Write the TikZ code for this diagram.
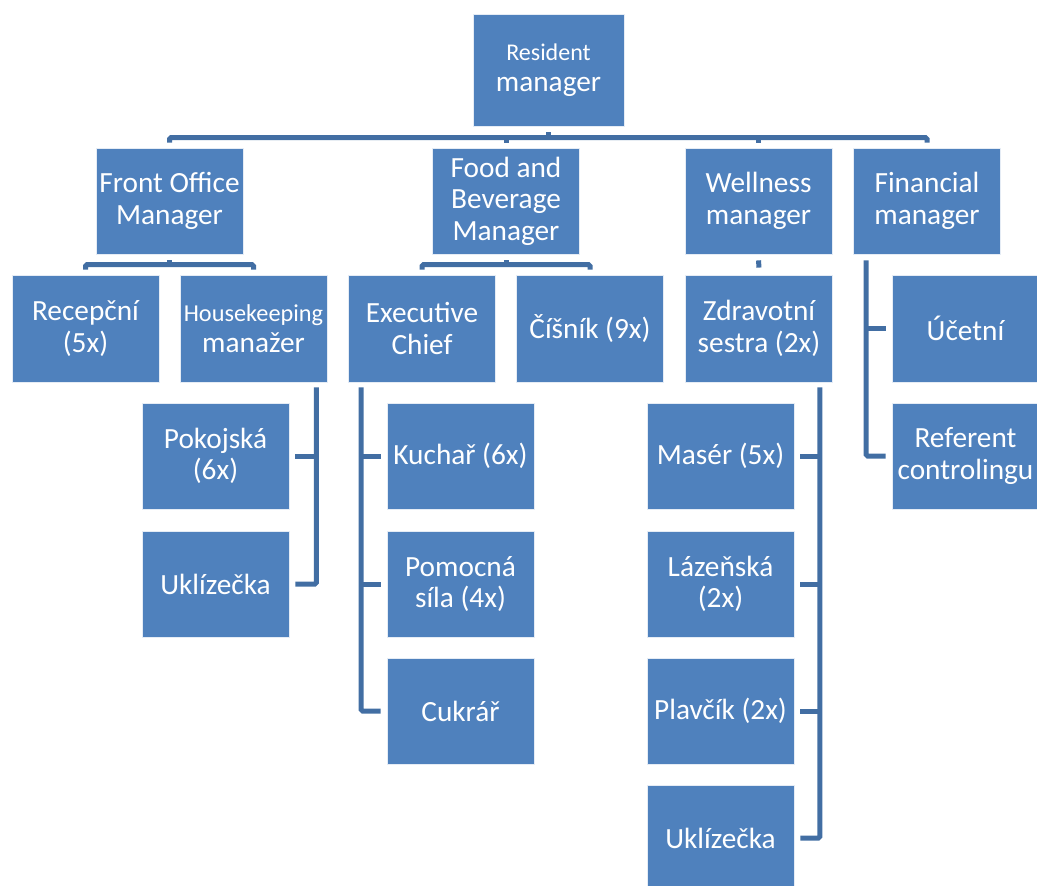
\documentclass[tikz,border=0pt]{standalone}
\usepackage{fontspec}
\setmainfont{Carlito}
\usetikzlibrary{calc}
\definecolor{boxfill}{RGB}{79,129,189}
\definecolor{linecol}{RGB}{66,110,163}
\begin{document}
\begin{tikzpicture}[x=1pt,y=1pt,
  box/.style={fill=boxfill,draw=white!85!boxfill,line width=0.8pt,text=white,
    minimum width=147pt,minimum height=106pt,inner sep=0pt,align=center,
    font=\fontsize{29.3}{31.5}\selectfont},
  conn/.style={draw=linecol,line width=5pt,rounded corners=1.5pt}]
\useasboundingbox (0,0) rectangle (1037,-886);
\clip (0,0) rectangle (1037,-886);
% level 0
\node[box,minimum width=151pt,minimum height=112pt] (res) at (548.5,-70) {{\fontsize{24}{31}\selectfont Resident}\\manager};
% level 1
\node[box] (fom) at (169.5,-201) {Front Office\\Manager};
\node[box] (fb) at (506,-201) {Food and\\Beverage\\Manager};
\node[box] (well) at (758.5,-201) {Wellness\\manager};
\node[box] (fin) at (927,-201) {Financial\\manager};
% level 2
\node[box,minimum height=107pt] (rec) at (85.5,-328.5) {Recepční\\(5x)};
\node[box,minimum height=107pt] (hk) at (253.5,-328.5) {{\fontsize{24.3}{31}\selectfont Housekeeping}\\manažer};
\node[box,minimum height=107pt] (ex) at (422,-328.5) {Executive\\Chief};
\node[box,minimum height=107pt] (cis) at (590,-328.5) {Číšník (9x)};
\node[box,minimum height=107pt] (zdr) at (759,-328.5) {Zdravotní\\sestra (2x)};
\node[box,minimum height=107pt] (uce) at (965.5,-328.5) {Účetní};
% level 3
\node[box] (pok) at (215.5,-456) {Pokojská\\(6x)};
\node[box] (ukla) at (215.5,-584) {Uklízečka};
\node[box] (kuch) at (460.5,-456) {Kuchař (6x)};
\node[box] (pom) at (460.5,-584) {Pomocná\\síla (4x)};
\node[box] (cuk) at (460.5,-711) {Cukrář};
\node[box] (mas) at (720.5,-456) {Masér (5x)};
\node[box] (laz) at (720.5,-584) {Lázeňská\\(2x)};
\node[box] (plav) at (720.5,-711) {Plavčík (2x)};
\node[box] (uklb) at (720.5,-838) {Uklízečka};
\node[box] (ref) at (965.5,-456) {Referent\\controlingu};
% top bus
\coordinate (busL) at ($(fom.north)+(0,10)$);
\coordinate (busR) at ($(fin.north)+(0,10)$);
\draw[conn] ($(fom.north)+(0,5)$) -- (busL) -- (busR) -- ($(fin.north)+(0,5)$);
\draw[conn] ($(res.south)+(0,-6)$) -- ($(res.south)+(0,-13)$);
\draw[conn] ($(fb.north)+(0,10)$) -- ($(fb.north)+(0,5)$);
\draw[conn] ($(well.north)+(0,10)$) -- ($(well.north)+(0,5)$);
% front office bracket
\draw[conn] ($(rec.north)+(0,5)$) -- ($(rec.north)+(0,10)$) -- ($(hk.north)+(0,10)$) -- ($(hk.north)+(0,5)$);
\draw[conn] ($(fom.south)+(0,-6)$) -- ($(fom.south)+(0,-12)$);
% food and beverage bracket
\draw[conn] ($(ex.north)+(0,5)$) -- ($(ex.north)+(0,10)$) -- ($(cis.north)+(0,10)$) -- ($(cis.north)+(0,5)$);
\draw[conn] ($(fb.south)+(0,-6)$) -- ($(fb.south)+(0,-12)$);
% wellness
\draw[conn] ($(well.south)+(0,-6)$) -- ($(zdr.north)+(0,7)$);
% financial
\coordinate (finl) at ($(fin.south west)+(13,-6)$);
\draw[conn] (finl) |- ($(ref.west)+(-6,0)$);
\draw[conn] ($(uce.west)+(-6,0)$) -- (uce.west -| finl);
% housekeeping
\coordinate (hkl) at ($(hk.south east)+(-11,-5)$);
\draw[conn] (hkl) |- ($(ukla.east)+(6,0)$);
\draw[conn] ($(pok.east)+(6,0)$) -- (pok.east -| hkl);
% executive chief
\coordinate (exl) at ($(ex.south west)+(13,-5)$);
\draw[conn] (exl) |- ($(cuk.west)+(-6,0)$);
\draw[conn] ($(kuch.west)+(-6,0)$) -- (kuch.west -| exl);
\draw[conn] ($(pom.west)+(-6,0)$) -- (pom.west -| exl);
% zdravotni
\coordinate (zdl) at ($(zdr.south east)+(-13,-5)$);
\draw[conn] (zdl) |- ($(uklb.east)+(6,0)$);
\draw[conn] ($(mas.east)+(6,0)$) -- (mas.east -| zdl);
\draw[conn] ($(laz.east)+(6,0)$) -- (laz.east -| zdl);
\draw[conn] ($(plav.east)+(6,0)$) -- (plav.east -| zdl);
\end{tikzpicture}
\end{document}
